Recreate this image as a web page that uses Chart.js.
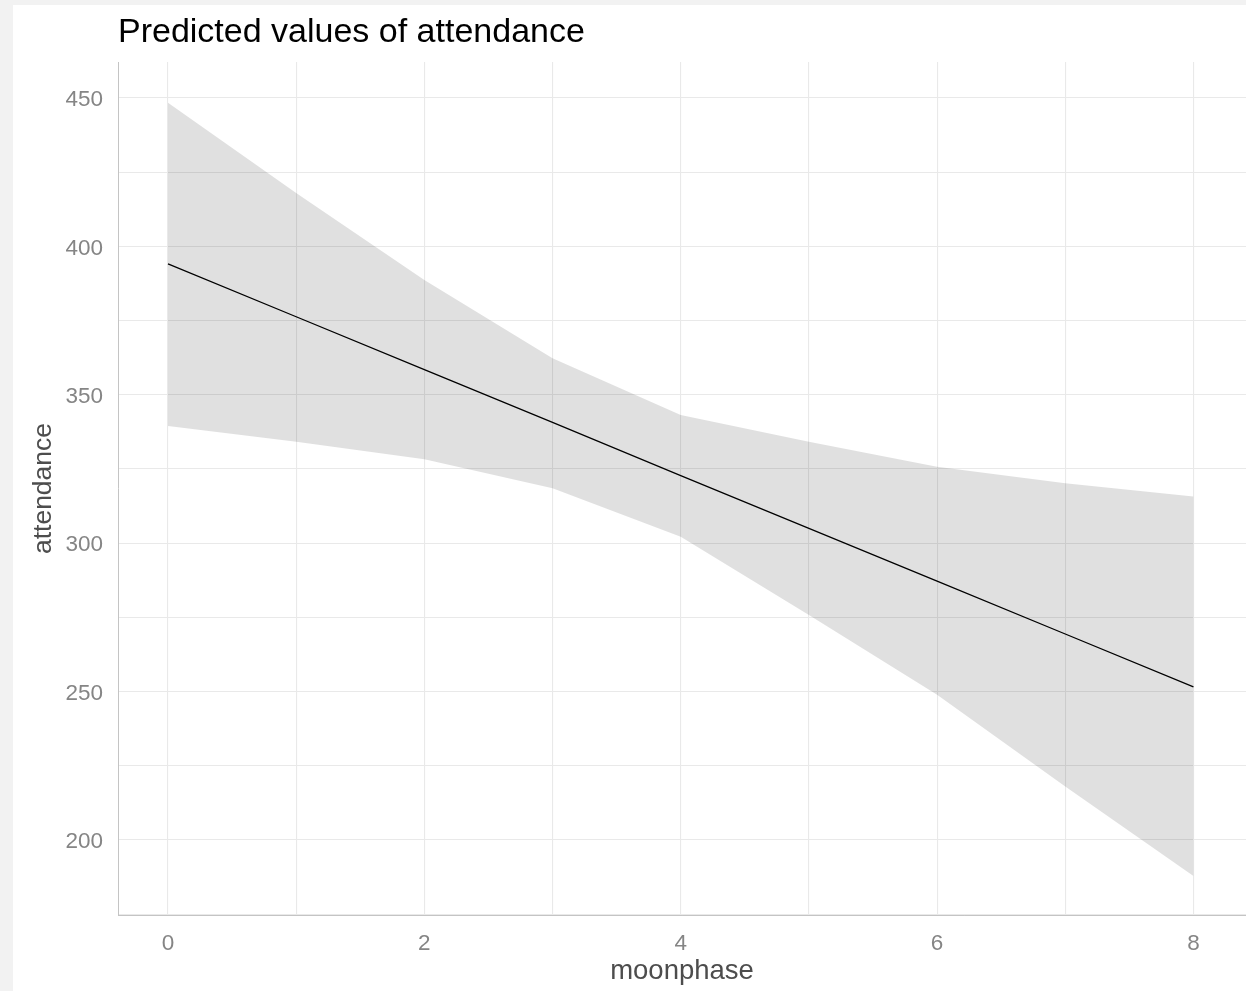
<!DOCTYPE html>
<html>
<head>
<meta charset="utf-8">
<script src="https://cdn.jsdelivr.net/npm/chart.js@4"></script>
<style>
  html, body { margin: 0; padding: 0; background: #f2f2f2; width: 1246px; height: 991px; overflow: hidden; }
  #panel { position: absolute; left: 13px; top: 5px; width: 1233px; height: 986px; background: #ffffff; }
  canvas { display: block; }
</style>
</head>
<body>
<div id="panel"><canvas id="c" width="1233" height="986"></canvas></div>
<script>
const moonphase = [0, 1, 2, 3, 4, 5, 6, 7, 8];
const predicted = [394.1, 376.3, 358.5, 340.7, 322.8, 305.0, 287.2, 269.4, 251.6];
const upperCI   = [448.4, 418.0, 388.7, 362.3, 343.2, 334.2, 325.8, 320.2, 315.7];
const lowerCI   = [339.5, 334.2, 328.3, 318.5, 302.2, 275.8, 248.9, 218.0, 187.9];
const xTicks = [0, 1, 2, 3, 4, 5, 6, 7, 8];
const xLabels = [0, 2, 4, 6, 8];
const yTicks = [175, 200, 225, 250, 275, 300, 325, 350, 375, 400, 425, 450];
const yLabels = [200, 250, 300, 350, 400, 450];

const pts = arr => moonphase.map((x, i) => ({ x: x, y: arr[i] }));
const FONT = "'Liberation Sans', Arial, sans-serif";

new Chart(document.getElementById('c'), {
  type: 'line',
  data: {
    datasets: [
      { label: 'upper', data: pts(upperCI), borderWidth: 0, pointRadius: 0, fill: false, borderColor: 'rgba(0,0,0,0)' },
      { label: 'lower', data: pts(lowerCI), borderWidth: 0, pointRadius: 0, fill: '-1', backgroundColor: 'rgba(0,0,0,0.12)', borderColor: 'rgba(0,0,0,0)' },
      { label: 'attendance', data: pts(predicted), borderWidth: 1.3, pointRadius: 0, fill: false, borderColor: '#000000', tension: 0 }
    ]
  },
  options: {
    responsive: false,
    animation: false,
    layout: { padding: { left: 10, top: 0, right: 0, bottom: 0 } },
    plugins: {
      legend: { display: false },
      tooltip: { enabled: false },
      title: {
        display: true,
        text: 'Predicted values of attendance',
        align: 'start',
        fullSize: false,
        color: '#000000',
        font: { family: FONT, size: 34, weight: 'normal' },
        padding: { top: 7, bottom: 9.2 }
      }
    },
    scales: {
      x: {
        type: 'linear',
        min: -0.39,
        max: 8.41,
        afterBuildTicks: s => { s.ticks = xTicks.map(v => ({ value: v })); },
        afterFit: s => { s.height = 76; },
        ticks: {
          callback: v => (xLabels.includes(v) ? String(v) : ''),
          color: '#858585',
          font: { family: FONT, size: 22.5 },
          padding: 15,
          maxRotation: 0,
          autoSkip: false
        },
        grid: { color: '#e9e9e9', lineWidth: 1.1, drawTicks: false },
        border: { display: true, color: '#c4c4c4', width: 1 },
        title: {
          display: true,
          text: 'moonphase',
          color: '#4d4d4d',
          font: { family: FONT, size: 27.5 },
          padding: { top: 0, bottom: 3 }
        }
      },
      y: {
        type: 'linear',
        min: 174.73,
        max: 462.13,
        afterBuildTicks: s => { s.ticks = yTicks.map(v => ({ value: v })); },
        afterFit: s => { s.width = 95; },
        ticks: {
          callback: v => (yLabels.includes(v) ? String(v) : ''),
          color: '#858585',
          font: { family: FONT, size: 22.5 },
          padding: 15,
          labelOffset: 2,
          autoSkip: false
        },
        grid: { color: '#e9e9e9', lineWidth: 1.1, drawTicks: false },
        border: { display: true, color: '#c4c4c4', width: 1 },
        title: {
          display: true,
          text: 'attendance',
          color: '#4d4d4d',
          font: { family: FONT, size: 26.5 },
          padding: { top: 5, bottom: 0 }
        }
      }
    }
  }
});
</script>
</body>
</html>
